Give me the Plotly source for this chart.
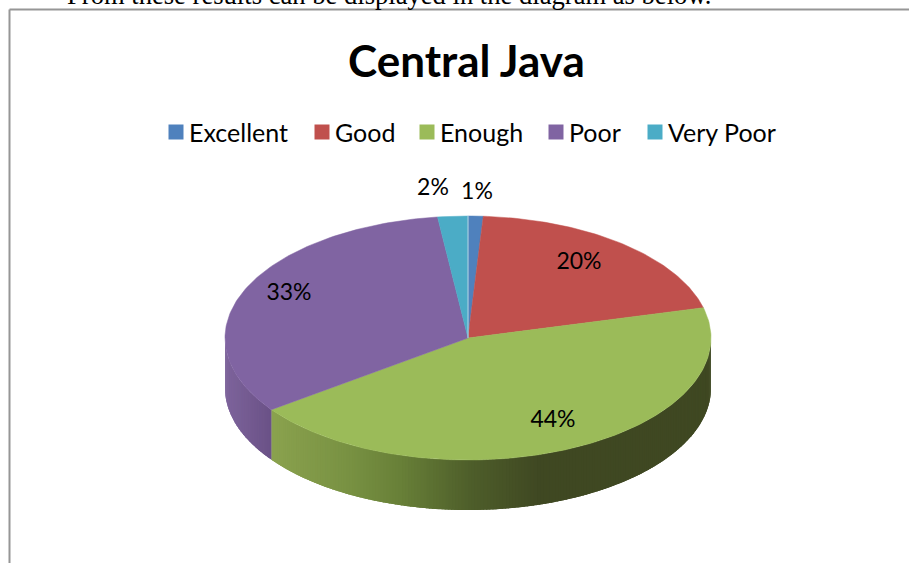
import math
import plotly.graph_objects as go

W, H = 909, 563

# Chart content
title = "Central Java"
caption = "From these results can be displayed in the diagram as below."
categories = ["Excellent", "Good", "Enough", "Poor", "Very Poor"]
percentages = [1, 20, 44, 33, 2]
top_colors = ["#4F81BD", "#C0504D", "#9BBB59", "#8064A2", "#4BACC6"]

# Pie geometry, in page pixels
CX, CY, RX, RY, DEPTH = 468, 338, 243, 122, 50
label_xy = [(477, 193), (579, 263), (553, 421), (289, 294), (433, 189)]
legend_swatch_x = [176, 322, 427, 556, 655]
LEGEND_Y = 132
FONT = "Lato"

# Side-wall shading: colour stops along x for each visible wall
side_stops = {
    "Enough": [(272, (138, 162, 78)), (350, (120, 145, 66)), (400, (104, 128, 56)),
               (470, (78, 94, 42)), (540, (63, 72, 34)), (711, (63, 72, 34))],
    "Poor": [(225, (126, 100, 156)), (272, (106, 81, 134))],
}


def rim(t_deg):
    t = math.radians(t_deg)
    return CX + RX * math.sin(t), CY - RY * math.cos(t)


def shade(stops, x):
    for (x0, c0), (x1, c1) in zip(stops, stops[1:]):
        if x <= x1:
            f = max(0.0, (x - x0) / (x1 - x0))
            return "rgb(%d,%d,%d)" % tuple(round(a + (b - a) * f) for a, b in zip(c0, c1))
    return "rgb(%d,%d,%d)" % stops[-1][1]


# Cumulative slice angles, clockwise from twelve o'clock
total = sum(percentages)
edges = [0.0]
for v in percentages:
    edges.append(edges[-1] + 360.0 * v / total)

fig = go.Figure()

# Side wall of the cylinder, only the front half can be seen.
# Each strip runs a little under the next one so no seams show.
for name, a0, a1 in zip(categories, edges, edges[1:]):
    if name not in side_stops:
        continue
    lo, hi = max(a0, 90.0), min(a1, 270.0)
    n = max(2, int((hi - lo) / 0.75))
    for i in range(n):
        t0 = lo + (hi - lo) * i / n
        t_mid = lo + (hi - lo) * (i + 0.5) / n
        t1 = min(hi, lo + (hi - lo) * (i + 1) / n + 1.0)
        steps = [t0 + (t1 - t0) * k / 3 for k in range(4)]
        rim_pts = [rim(t) for t in steps]
        xs = [p[0] for p in rim_pts] + [p[0] for p in reversed(rim_pts)]
        ys = [p[1] for p in rim_pts] + [p[1] + DEPTH for p in reversed(rim_pts)]
        fill = shade(side_stops[name], rim(t_mid)[0])
        fig.add_trace(go.Scatter(
            x=xs + xs[:1], y=ys + ys[:1],
            mode="lines", fill="toself", fillcolor=fill,
            line=dict(width=0, color=fill), hoverinfo="skip", showlegend=False,
        ))

# Top face of each slice
for name, v, color, a0, a1 in zip(categories, percentages, top_colors, edges, edges[1:]):
    n = max(4, int(a1 - a0))
    pts = [rim(a0 + (a1 - a0) * i / n) for i in range(n + 1)]
    xs = [CX] + [p[0] for p in pts] + [CX]
    ys = [CY] + [p[1] for p in pts] + [CY]
    fig.add_trace(go.Scatter(
        x=xs, y=ys, mode="lines", fill="toself", fillcolor=color,
        line=dict(width=0.5, color=color), name=name,
        hovertemplate=f"{name}: {v}%<extra></extra>", showlegend=False,
    ))

# Thin highlight where the first slice begins
top_x, top_y = rim(edges[0])
fig.add_trace(go.Scatter(
    x=[CX, top_x], y=[CY, top_y], mode="lines",
    line=dict(width=1, color="#B9D3E6"), hoverinfo="skip", showlegend=False,
))

# Percentage labels
fig.add_trace(go.Scatter(
    x=[p[0] for p in label_xy], y=[p[1] for p in label_xy],
    mode="text", text=[f"{v}%" for v in percentages],
    textposition="middle center",
    textfont=dict(family=FONT, size=23, color="#000000"),
    hoverinfo="skip", showlegend=False,
))

# Legend row: square swatch followed by its category name
for name, color, sx in zip(categories, top_colors, legend_swatch_x):
    fig.add_trace(go.Scatter(
        x=[sx], y=[LEGEND_Y], mode="markers",
        marker=dict(symbol="square", size=15, color=color, line=dict(width=0)),
        hoverinfo="skip", showlegend=False,
    ))
    fig.add_annotation(
        x=sx + 11, y=LEGEND_Y, xref="x", yref="y", text=name, showarrow=False,
        xanchor="left", yanchor="middle",
        font=dict(family=FONT, size=25, color="#000000"),
    )

fig.add_annotation(
    x=466, y=60, xref="x", yref="y", text=f"<b>{title}</b>", showarrow=False,
    xanchor="center", yanchor="middle",
    font=dict(family=FONT, size=44, color="#000000"),
)
# Caption line belonging to the surrounding page, cut off by its top edge
fig.add_annotation(
    x=65, y=1 - 11.5 / H, xref="x", yref="paper", text=caption, showarrow=False,
    xanchor="left", yanchor="bottom",
    font=dict(family="Liberation Serif", size=26.6, color="#000000"),
)

# Frame of the chart area, running off the right and bottom of the page
fig.add_shape(type="line", x0=9.5, x1=W, y0=9.5, y1=9.5, xref="x", yref="y",
              line=dict(color="#969696", width=2))
fig.add_shape(type="line", x0=9.5, x1=9.5, y0=9.5, y1=H, xref="x", yref="y",
              line=dict(color="#969696", width=2))

fig.update_layout(
    width=W, height=H, autosize=False, margin=dict(l=0, r=0, t=0, b=0, pad=0),
    paper_bgcolor="white", plot_bgcolor="white", showlegend=False,
    xaxis=dict(range=[0, W], visible=False, fixedrange=True),
    yaxis=dict(range=[H, 0], visible=False, fixedrange=True),
)

fig.write_html("out.html", config={"displayModeBar": False})
